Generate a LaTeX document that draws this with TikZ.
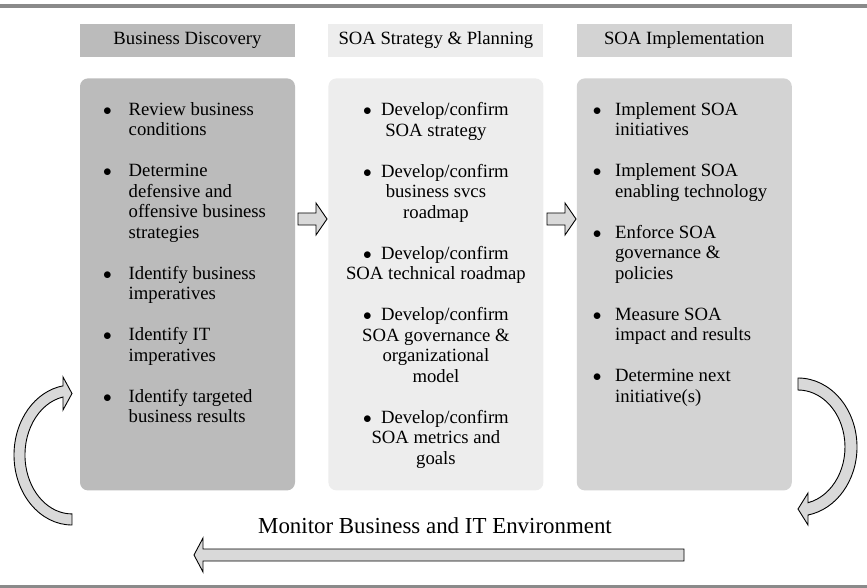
\documentclass[tikz,border=0pt]{standalone}
\usepackage{fontspec}
\setmainfont{Liberation Serif}
\usepackage{tikz}
\usetikzlibrary{positioning, calc}
\definecolor{DiscGray}{RGB}{187,187,187}
\definecolor{PlanGray}{RGB}{237,237,237}
\definecolor{ImplGray}{RGB}{211,211,211}
\definecolor{RuleGray}{RGB}{138,138,138}
\definecolor{ArrowGray}{RGB}{217,217,217}

\newlength{\bltw}
\newcommand{\blt}{\makebox[\bltw][l]{$\bullet$}}
\newcommand{\bln}{\hspace*{\bltw}}

\tikzset{
    headbox/.style={minimum width=215pt, minimum height=33pt, inner sep=0pt},
    listbox/.style={minimum width=215pt, minimum height=412pt, inner sep=0pt, rounded corners=8pt},
    listtext/.style={inner sep=0pt, align=left},
    bulletgap/.style={execute at begin node={\setlength{\bltw}{#1}}},
    blockarrow/.style={draw=black, fill=ArrowGray, line width=0.9pt, line join=miter}
}

\begin{document}
\begin{tikzpicture}[x=1pt, y=-1pt, font=\fontsize{18.7}{20.5}\selectfont]

    \useasboundingbox (0,0) rectangle (867,588);

    % rules
    \draw[RuleGray, line width=4pt] (0,6) -- (867,6);
    \draw[RuleGray, line width=3pt] (0,586.5) -- (867,586.5);

    % header boxes
    \node[headbox, fill=DiscGray] (discHead) at (187.5,40.5) {Business Discovery};
    \node[headbox, fill=PlanGray, right=33pt of discHead] (planHead) {SOA Strategy \& Planning};
    \node[headbox, fill=ImplGray, right=33pt of planHead] (implHead) {SOA Implementation};

    % list boxes
    \node[listbox, fill=DiscGray, below=21pt of discHead] (disc) {};
    \node[listbox, fill=PlanGray, below=21pt of planHead] (plan) {};
    \node[listbox, fill=ImplGray, below=21pt of implHead] (impl) {};

    % list texts
    \node[listtext, bulletgap=25.7pt, anchor=north west] (discText) at ($(disc.north west)+(23,24)$)
        {\blt Review business\\
         \bln conditions\\[20.5pt]
         \blt Determine\\
         \bln defensive and\\
         \bln offensive business\\
         \bln strategies\\[20.5pt]
         \blt Identify business\\
         \bln imperatives\\[20.5pt]
         \blt Identify IT\\
         \bln imperatives\\[20.5pt]
         \blt Identify targeted\\
         \bln business results};
    \node[listtext, bulletgap=18pt, align=center, anchor=north] (planText) at ($(plan.north)+(0,24)$)
        {\blt Develop/confirm\\
         SOA strategy\\[20.5pt]
         \blt Develop/confirm\\
         business svcs\\
         roadmap\\[20.5pt]
         \blt Develop/confirm\\
         SOA technical roadmap\\[20.5pt]
         \blt Develop/confirm\\
         SOA governance \&\\
         organizational\\
         model\\[20.5pt]
         \blt Develop/confirm\\
         SOA metrics and\\
         goals};
    \node[listtext, bulletgap=22.3pt, anchor=north west] (implText) at ($(impl.north west)+(16,24)$)
        {\blt Implement SOA\\
         \bln initiatives\\[20.5pt]
         \blt Implement SOA\\
         \bln enabling technology\\[20.5pt]
         \blt Enforce SOA\\
         \bln governance \&\\
         \bln policies\\[20.5pt]
         \blt Measure SOA\\
         \bln impact and results\\[20.5pt]
         \blt Determine next\\
         \bln initiative(s)};

    % arrows between boxes
    \foreach \ax in {298,547}
        \filldraw[blockarrow] (\ax,213) -- ++(18,0) -- ++(0,-10) -- ++(11,16)
            -- ++(-11,16) -- ++(0,-10) -- ++(-18,0) -- cycle;

    % curved arrows
    \filldraw[blockarrow] (72,525)
        arc[start angle=90, end angle=261.1, x radius=58, y radius=70]
        -- (63,377) -- (72,393.5) -- (63,410) -- (63,397)
        arc[start angle=259, end angle=90, x radius=47, y radius=59] -- cycle;
    \filldraw[blockarrow] (798,378)
        arc[start angle=-90, end angle=80.2, x radius=59, y radius=69]
        -- (808,525) -- (798,509) -- (808,493) -- (808,502.7)
        arc[start angle=77.7, end angle=-90, x radius=47, y radius=57] -- cycle;

    % monitor arrow
    \node[font=\fontsize{22.9}{24}\selectfont] (monitor) at (435,526) {Monitor Business and IT Environment};
    \filldraw[blockarrow] (684,549) -- (684,561) -- (203,561) -- (203,572)
        -- (194,555) -- (203,538) -- (203,549) -- cycle;

\end{tikzpicture}
\end{document}
